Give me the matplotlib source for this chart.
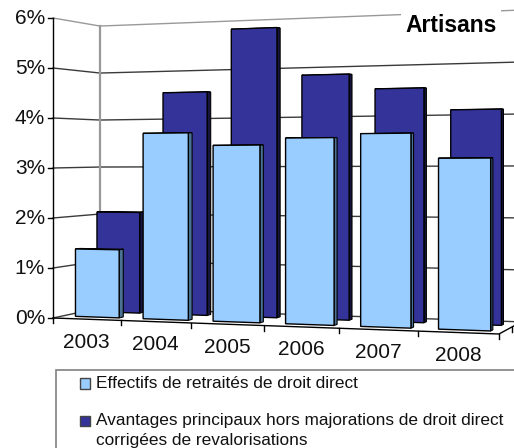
import numpy as np
import matplotlib
matplotlib.use('Agg')
from matplotlib import pyplot as plt
from matplotlib.patches import Polygon, Rectangle

plt.rcParams['font.family'] = ['Liberation Sans', 'DejaVu Sans']

years = ['2003', '2004', '2005', '2006', '2007', '2008']
effectifs = [1.36, 3.68, 3.43, 3.56, 3.63, 3.16]
avantages = [2.07, 4.52, 5.77, 4.81, 4.51, 4.08]
y_ticks = [0, 1, 2, 3, 4, 5, 6]

light = '#99CCFF'
light_side = '#4A7396'
dark = '#333399'
dark_side = '#16163F'

# perspective of the 3D box: front-left, front-right and back-left floor corners in pixels
FL = np.array([53.0, 318.0])
FR = np.array([499.0, 334.0])
BL = np.array([100.0, 308.0])
g, h = -0.102, 0.064
A = FR * (1 + g) - FL
B = BL * (1 + h) - FL


def proj(u, d, v=0.0):
    # u along the years (0-6), d depth (0-1), v value in %
    u = u / 6.0
    w = 1 + g * u + h * d
    p = (A * u + B * d + FL) / w
    return p[0], p[1] - v * 50.0 / w


def bar(ax, i, v, d0, d1, face, side):
    u0, u1 = i + 0.19, i + 0.84
    top = [proj(u0, d0, v), proj(u1, d0, v), proj(u1, d1, v), proj(u0, d1, v)]
    sd = [proj(u1, d0, 0), proj(u1, d1, 0), proj(u1, d1, v), proj(u1, d0, v)]
    front = [proj(u0, d0, 0), proj(u1, d0, 0), proj(u1, d0, v), proj(u0, d0, v)]
    ax.add_patch(Polygon(top, closed=True, fc=face, ec='black', lw=0.8))
    ax.add_patch(Polygon(sd, closed=True, fc=side, ec='black', lw=0.8))
    ax.add_patch(Polygon(front, closed=True, fc=face, ec='black', lw=1.0))


fig = plt.figure(figsize=(5.14, 4.48), dpi=100)
ax = fig.add_axes([0, 0, 1, 1])
ax.set_xlim(0, 514)
ax.set_ylim(448, 0)
ax.axis('off')

# walls and gridlines
for t in y_ticks:
    c = '#999999' if t == 6 else '#3a3a3a'
    p0, p1, p2 = proj(0, 0, t), proj(0, 1, t), proj(6, 1, t)
    ax.plot([p0[0], p1[0], p2[0]], [p0[1], p1[1], p2[1]], color=c, lw=1.0, zorder=1)
    ax.plot([48, p0[0]], [p0[1], p0[1]], color='black', lw=1.0, zorder=1)
    ax.text(45, p0[1], '%d%%' % t, ha='right', va='center', fontsize=15, color='#111111')

x, y = zip(proj(0, 1, 0), proj(0, 1, 6))
ax.plot(x, y, color='#999999', lw=1.6, zorder=1)
x, y = zip(proj(0, 0, 0), proj(0, 0, 6))
ax.plot(x, y, color='black', lw=1.0, zorder=1)

# floor edges and ticks
x, y = zip(proj(0, 0), proj(6, 0), proj(6, 1))
ax.plot(x, y, color='black', lw=1.0, zorder=6)
for i in range(7):
    px, py = proj(i, 0)
    ax.plot([px, px], [py, py + 5], color='black', lw=1.0, zorder=1)
px, py = proj(6, 0.55)
ax.plot([px, px], [py, py + 5], color='black', lw=1.0, zorder=1)

# bars, back row first
for i, v in enumerate(avantages):
    bar(ax, i, v, 0.66, 0.75, dark, dark_side)
for i, v in enumerate(effectifs):
    bar(ax, i, v, 0.2, 0.29, light, light_side)

for i, lab in enumerate(years):
    px, py = proj(i + 0.5, 0)
    ax.text(px, py + 23, lab, ha='center', va='center', fontsize=15, color='#111111')

ax.text(451, 25.5, 'Artisans', ha='center', va='center', fontsize=16.5, fontweight='bold',
        color='black', zorder=8, bbox=dict(fc='white', ec='none', pad=3))

# legend box, runs off the right and bottom of the figure
ax.add_patch(Rectangle((55.5, 370.5), 470, 90, fc='white', ec='#808080', lw=1.2, zorder=7))
ax.add_patch(Rectangle((80, 378), 10, 11, fc=light, ec='#444444', lw=1.0, zorder=8))
ax.add_patch(Rectangle((80, 416), 10, 10, fc=dark, ec='#444444', lw=1.0, zorder=8))
ax.text(96, 384, 'Effectifs de retraités de droit direct', va='center', fontsize=12.4, zorder=8, color='#111111')
ax.text(96, 421, 'Avantages principaux hors majorations de droit direct', va='center', fontsize=12.4, zorder=8, color='#111111')
ax.text(96, 441, 'corrigées de revalorisations', va='center', fontsize=12.4, zorder=8, color='#111111')

plt.savefig('out.png', dpi=100)
